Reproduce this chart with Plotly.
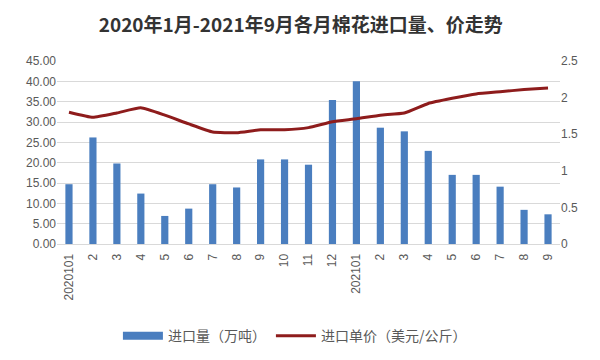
import plotly.graph_objects as go

tick_labels = ["2020101", "2", "3", "4", "5", "6", "7", "8", "9", "10", "11", "12",
               "202101", "2", "3", "4", "5", "6", "7", "8", "9"]
volume = [14.7, 26.2, 19.8, 12.4, 6.9, 8.7, 14.7, 13.9, 20.8, 20.8, 19.5, 35.4,
          40.0, 28.6, 27.7, 22.9, 17.0, 17.0, 14.1, 8.4, 7.3]
price = [1.80, 1.73, 1.79, 1.86, 1.76, 1.64, 1.53, 1.52, 1.56, 1.56, 1.59, 1.67,
         1.71, 1.76, 1.79, 1.92, 1.99, 2.05, 2.08, 2.11, 2.13]
x_pos = list(range(len(tick_labels)))

font_cjk = "Noto Sans CJK SC, Noto Sans, sans-serif"
bar_color = "#4A7EBF"

fig = go.Figure()
fig.add_trace(go.Bar(x=x_pos, y=volume, name="进口量（万吨）", showlegend=False,
                     marker=dict(color=bar_color, line=dict(width=0)), width=0.3))
# legend entry for the bars drawn as a wide rectangle like the original
fig.add_trace(go.Scatter(x=[None], y=[None], name="进口量（万吨）", mode="lines",
                         line=dict(color=bar_color, width=8)))
fig.add_trace(go.Scatter(x=x_pos, y=price, name="进口单价（美元/公斤）", yaxis="y2",
                         mode="lines", line=dict(color="#8E1C1C", width=3, shape="spline", smoothing=0.4)))

fig.update_layout(
    width=600, height=360,
    margin=dict(l=49, r=48, t=53, b=124, autoexpand=False),
    paper_bgcolor="white", plot_bgcolor="white",
    title=dict(text="<b>2020年1月-2021年9月各月棉花进口量、价走势</b>", x=0.488, xanchor="center",
               y=0.953, yanchor="middle", font=dict(family=font_cjk, size=19, color="#333333")),
    font=dict(family=font_cjk, color="#595959", size=12),
    xaxis=dict(tickvals=x_pos, ticktext=tick_labels, tickangle=-90, range=[-0.5, len(x_pos) - 0.5],
               showgrid=False, showline=True, linecolor="#D9D9D9", ticks="outside", ticklen=4,
               tickcolor="rgba(0,0,0,0)",
               tickfont=dict(family="Liberation Sans, Arial", size=12, color="#595959")),
    yaxis=dict(range=[0, 45], dtick=5, tickformat=".2f", showgrid=True, gridcolor="#D9D9D9",
               zeroline=False, ticks="", tickfont=dict(family="Liberation Sans, Arial", size=12, color="#595959")),
    yaxis2=dict(range=[0, 2.5], dtick=0.5, overlaying="y", side="right", showgrid=False,
                zeroline=False, ticks="", tickfont=dict(family="Liberation Sans, Arial", size=12, color="#595959")),
    legend=dict(orientation="h", x=0.473, xanchor="center", y=-0.503, yanchor="middle",
                font=dict(family=font_cjk, size=14, color="#595959"), traceorder="normal",
                itemwidth=40),
    bargap=0.7,
)

fig.write_html("out.html")
